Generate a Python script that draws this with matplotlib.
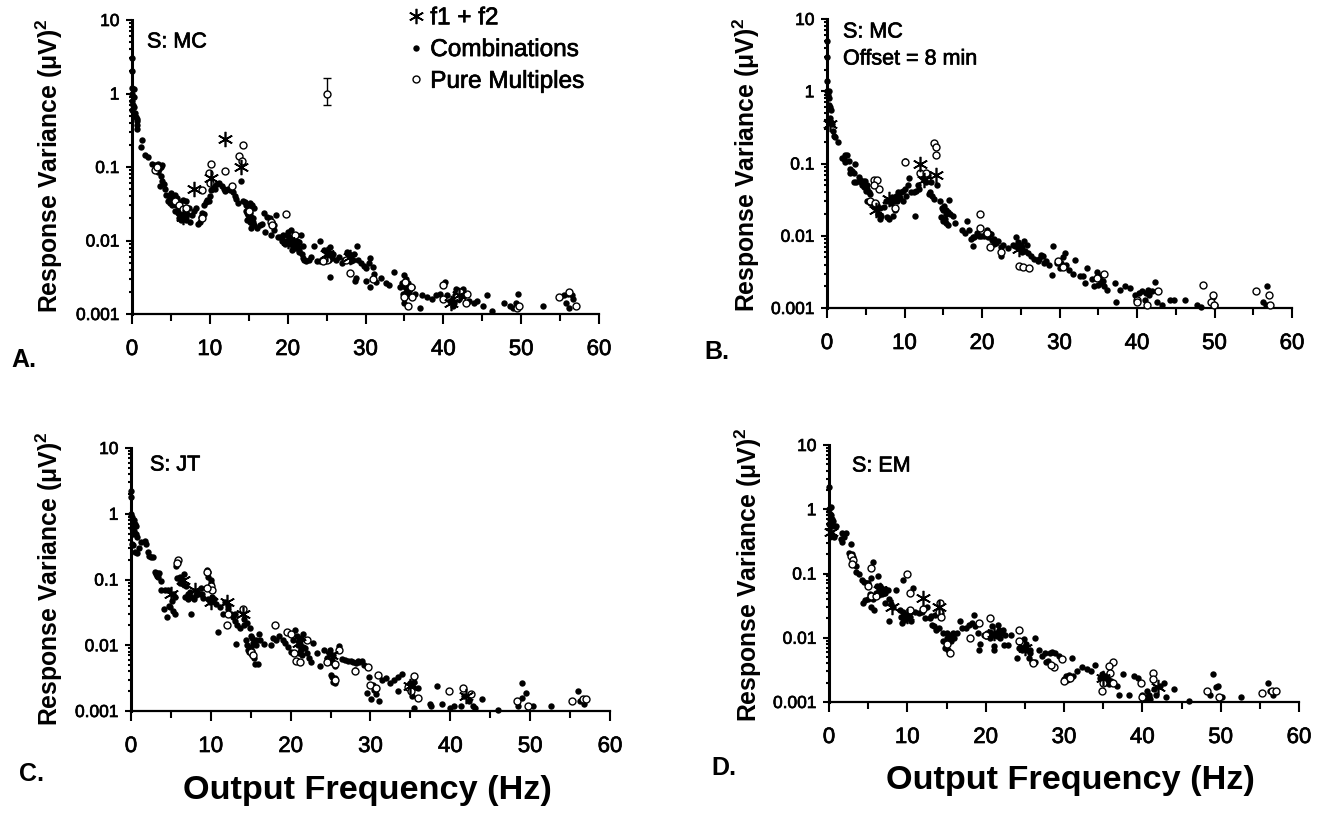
import matplotlib
matplotlib.use("Agg")
import matplotlib.pyplot as plt
import matplotlib.patheffects as pe
from matplotlib.ticker import FixedLocator, NullFormatter

plt.rcParams["font.family"] = ["Liberation Sans", "DejaVu Sans"]
plt.rcParams["mathtext.fontset"] = "custom"
plt.rcParams["mathtext.bf"] = "Liberation Sans:bold"

W, H = 1322, 815

# (frequency Hz, variance)
a_comb = [(0,3),(0,2),(0,1.2),(0.05,1),(0,.8),(0.1,.7),(0.05,.6),(0.2,1.15),(0.25,.9),(0.3,.65),(0.35,.55),(0.5,.48),(0.6,.42),(0.7,.45),(0.65,.37),(0.7,.33),
    (1.15,.19),(1.3,.23),(1.7,.145),(2.1,.135),(2.6,.11),(3,.105),(3.1,.09),(3.3,.11),(3.5,.095),(3.7,.1),(3.9,.105),(3.4,.085),(3.7,.075),(3.9,.065),(3.6,.055),(4.1,.058),(4.3,.05),
    (4.4,.042),(4.7,.04),(5,.044),(5.2,.04),(5.5,.042),(5.8,.038),(4.6,.035),(4.9,.032),(5.1,.03),(5.4,.034),(5.7,.03),(6,.028),(6.2,.033),(6.5,.036),(6.9,.034),(5.5,.025),(5.9,.024),(6.2,.022),(6.5,.026),(6.8,.024),(7,.027),(7.3,.028),(6.3,.019),(6.6,.02),(7,.019),(7.5,.018),(7.7,.022),(8,.025),(8.2,.028),(8.5,.017),(8.7,.018),(8.9,.021),(9,.024),(9.2,.023),(9.3,.03),(9.5,.033),(9.7,.036),(9.9,.034),
    (10,.04),(10.2,.048),(10.4,.055),(10.7,.05),(10.9,.058),(11.2,.06),(11.5,.055),(11.8,.05),(12,.047),(12.3,.05),(12.6,.048),(12.9,.055),(13,.045),(13.2,.04),(13.3,.037),(13.6,.032),(14,.065),(14.3,.035),(14.5,.033),(14.7,.03),(14.9,.028),(15.1,.032),(15.4,.03),(15.7,.028),(14.6,.025),(14.9,.022),(15.2,.024),(15.5,.02),(14.8,.019),(15.1,.018),(15.4,.017),(15.7,.016),(15.3,.015),(16,.015),(16.4,.016),(16.7,.017),(17,.024),(17.3,.021),(17.1,.013),(17.7,.02),(18,.018),(18.3,.016),(18.5,.022),(18.2,.014),(17.9,.012),(18.7,.011),
    (19,.011),(19.3,.01),(19.6,.009),(19.9,.012),(20.1,.013),(20.4,.014),(20.6,.011),(20.9,.012),(21.2,.01),(21.5,.0095),(20.3,.009),(20.7,.0085),(21,.0078),(21.3,.0082),(21.7,.012),(22,.0085),(21.5,.007),(21.8,.0065),(22.1,.0055),(22.4,.0052),(22.7,.0055),(23,.006),(22,.0058),(23.4,.0085),(23.8,.0053),(24.1,.0052),(24.4,.0055),(24.7,.0075),(24.9,.006),(25.2,.0072),(25.5,.0082),(25.8,.0065),(25,.0068),(25.3,.0055),(24.2,.01),(26.2,.0055),(26.6,.006),(27,.005),(27.3,.0055),(27.6,.007),(27.9,.0065),(28.2,.0058),(28.5,.0065),(28.9,.0085),(29,.0055),(29.4,.005),(29.8,.0045),(30.1,.0042),(30.4,.005),(30.6,.0058),(30.9,.0043),(25.5,.0032),(28.6,.0028),(28.8,.0031),(30.1,.0028),(30.6,.0023),(31.1,.0035),(31.3,.0027),
    (32,.0031),(32.6,.0026),(33,.0025),(33.7,.0037),(34.4,.0023),(34.7,.0026),(35,.0034),(35.2,.003),(35.5,.0026),(35.7,.0022),(36,.0023),(34.8,.0019),(35.2,.002),(35.5,.0018),(35,.0014),(36.3,.0019),(37,.0012),(37.2,.0018),(37.9,.0017),(38.6,.0016),(39.1,.0018),(39.6,.0019),(40.2,.0027),(40.5,.0018),(40.9,.0015),(41.2,.0013),(41.6,.0022),(41.9,.0019),(42.2,.002),(42.5,.0022),(42.8,.0018),(41.2,.0016),(42,.0016),(43.3,.0015),(43.9,.0014),(44.3,.0015),(45.1,.0013),(45.6,.0018),(46.2,.0011),(47.8,.0014),(48.6,.0013),(49,.0012),(49.6,.0019),(49.3,.0014),(52.8,.0013),(55,.0017),(55.5,.0018),(56,.0019),(56.5,.0018),(56.6,.0016),(55.7,.0014),(56.1,.0012),
    (6.1,.025),(6.4,.023),(6.7,.022),(7.1,.023),(6,.02),(6.9,.021),(5.2,.035),(5.6,.031),(15,.026),(15.3,.021),(14.8,.024),(15.6,.018),(19.4,.012),(19.8,.01),(20.2,.011),(20.5,.0098),(20.9,.0095),(21.1,.0088),(21.4,.0075),(20.6,.0075),(25.4,.0062),(25.7,.0058),(25.1,.0058),(24.8,.0052),(27.8,.0058),(28.1,.0052),(28.4,.0055),(41.5,.0018),(41.8,.0016),(42.2,.0017),(42.4,.0019),(41.4,.0014),(35.3,.0024),(35.6,.002),(35.1,.0023)]
a_pure = [(14.2,.2),(13.8,.14),(14.1,.12),(10.2,.11),(9.9,.082),(12,.088),(10,.06),(9,.048),(3,.09),(3.2,.1),(5.5,.035),(6,.03),(6.5,.027),(7,.028),(9,.02),(12.9,.055),(15,.025),(19.8,.023),(17.9,.018),(18,.016),(21,.012),(28,.0036),(31,.003),(25,.0055),(24.5,.0052),(35.1,.0027),(35,.0017),(35.5,.0013),(36,.0017),(35.8,.0023),(40,.0025),(40,.0016),(41.7,.0017),(42.2,.002),(43,.0019),(42.9,.0014),(49.5,.0012),(49.7,.0013),(56.2,.002),(57,.0013),(54.9,.0017),(27.5,.0055)]
a_star = [(6.5,.021),(8,.05),(10.2,.07),(12,.24),(14,.1),(20,.01),(25,.0065),(28,.006),(41,.0014),(42,.0018)]

b_comb = [(0,5),(0,3),(0,1.4),(0,1),(0.1,.9),(0.2,1),(0.3,.8),(0.3,.65),(0.4,.6),(0.5,.55),(0.4,.42),(0.5,.38),(0.6,.35),(0.8,.28),(0.9,.24),(1,.235),(1.4,.2),(1.9,.12),(2.2,.115),(2.3,.13),(2.6,.13),(2.3,.105),(2.8,.11),(3,.085),(3,.075),(3.2,.08),(3.5,.075),(3.6,.1),(3.5,.055),(3.8,.055),(4.1,.065),(4.3,.06),(4.6,.058),(4.9,.058),(4.5,.05),(4.8,.048),(5,.042),(5.2,.05),(5.4,.04),(5.6,.038),(5.2,.03),(5.5,.028),(5.7,.03),(6,.06),(6.2,.055),(6.5,.06),(6,.025),(6.3,.028),(6.6,.02),(6.8,.017),(7,.019),(7.3,.025),(7.6,.03),(7.7,.018),(8,.017),(8.3,.028),(8.6,.03),(8.5,.019),(8.8,.023),(9,.03),(9.2,.04),(9.4,.033),(9.6,.04),(9.8,.03),
    (10,.045),(10.2,.035),(10.4,.05),(10.6,.062),(10.8,.04),(11.2,.04),(11.5,.042),(11.7,.05),(11.9,.045),(11.3,.019),(10,.105),(10.1,.11),(12.2,.065),(12.5,.06),(12.8,.055),(13,.07),(13.1,.038),(13.3,.04),(13.5,.035),(13.8,.032),(13.4,.055),(14.2,.05),(14.6,.03),(14.8,.024),(15.1,.026),(15.4,.023),(15.8,.031),(14.7,.018),(15,.016),(15.3,.015),(15.6,.014),(15.9,.02),(16.2,.019),(16.5,.015),(17.4,.012),(17.8,.011),(18,.016),(18.3,.012),(18.6,.009),(18.8,.0095),(18.9,.0072),(19.3,.011),(19.6,.01),
    (20.2,.01),(20.6,.012),(20.9,.011),(21.2,.0105),(21.5,.009),(21.8,.008),(22.1,.0085),(22.5,.0052),(22.7,.0075),(22.4,.007),(23.3,.0068),(24,.0075),(24.4,.0095),(24.7,.0068),(25,.0075),(25.4,.0085),(25.8,.0075),(25.2,.006),(25.9,.0058),(26.3,.0052),(26.7,.0048),(27.2,.0045),(27.6,.0055),(27.9,.0052),(28.3,.0045),(28.7,.004),(29.1,.0072),(29,.0029),(29.7,.0042),(30,.0036),(30.4,.005),(30.7,.0058),(30.9,.004),(31.2,.0034),(31.8,.003),(32,.0046),(32.7,.0028),(33,.0028),(33.5,.0036),(33.3,.0022),(34.2,.0025),(34.8,.0031),(35.2,.0028),(35.4,.0024),(34.5,.002),(35,.0021),(35.7,.002),(36.1,.0018),(37.3,.0012),(37.2,.0022),(37.8,.0018),(38.5,.002),(39.1,.0019),(39.8,.0015),(40.3,.0016),(40.7,.0017),(41,.0013),(41.4,.0018),(41.9,.0017),(42.3,.0023),(42.6,.0012),(43.2,.0011),(44.2,.0013),(44.8,.0013),(46.2,.0013),(47.7,.0011),(48.2,.00102),(49.5,.0012),(49.8,.0014),(56.8,.002),(56.3,.0012),(56.6,.0011),(50,.0011),
    (4.4,.055),(4.7,.052),(5.1,.045),(6.4,.027),(6.9,.024),(8.4,.034),(8.9,.035),(9.3,.036),(9.8,.042),(15,.023),(15.3,.02),(15.6,.021),(15.2,.017),(19,.0095),(19.9,.0098),(20.4,.0105),(20.8,.0095),(21.3,.0088),(21.6,.0078),(24.2,.0072),(24.6,.0082),(25.1,.0065),(25.5,.0062),(27.4,.0048),(28,.0042),(30.2,.0042),(30.6,.0038),(34.9,.0026),(35.3,.0022),(35.6,.0024),(41.2,.0016),(41.6,.0015)]
b_pure = [(13.8,.19),(14.1,.17),(14,.13),(10,.105),(12,.075),(12.8,.075),(6,.06),(6.5,.06),(6.7,.044),(6,.05),(5.5,.03),(6.2,.028),(8.8,.024),(19.8,.02),(19.8,.013),(20.6,.011),(21,.007),(22.5,.006),(24.8,.0038),(25.3,.0037),(26,.0036),(35.7,.003),(34.8,.0026),(29.8,.0045),(30.5,.0037),(40,.0013),(40,.0012),(41.3,.0011),(42.7,.0017),(48.5,.0021),(49.8,.0015),(49.5,.0012),(49.9,.0011),(55.3,.0017),(57,.0015),(57.1,.0011)]
b_star = [(0.4,.35),(6.3,.023),(8,.032),(12,.1),(12.5,.06),(14,.07),(24.8,.0065)]

c_comb = [(0,2.2),(0,1.8),(0,1),(0.1,.9),(.2,.8),(.1,.6),(.2,.5),(0.3,.7),(.4,.8),(.5,.7),(.6,.65),(.4,.55),(.6,.5),(.7,.45),(.1,.35),(.3,.33),(.5,.26),(.7,.25),(1,.3),(1.2,.37),(1.7,.38),(1.9,.35),(2.1,.26),(2.3,.23),(2.5,.22),(2.8,.22),(3,.13),(3.1,.12),(3.3,.125),(3.4,.11),(3.5,.125),(3.8,.095),(3.8,.07),(4.2,.07),(4.6,.07),(4.1,.035),(4.5,.027),(4.7,.04),(4.9,.038),(5.1,.047),(5.3,.06),(5.5,.055),(5.2,.033),(5.5,.03),(5.6,.16),(5.9,.19),(5.8,.105),(6.1,.09),(6.4,.1),(6.6,.12),(6.9,.08),(7.1,.06),(6.8,.055),(7.2,.05),(7.5,.03),(7.5,.055),(7.9,.05),(8.3,.065),(8.6,.06),(8.8,.075),(9,.052),(9.5,.14),(9.6,.13),(9.7,.11),
    (10,.1),(10,.09),(9.6,.05),(9.9,.045),(10.2,.055),(10.4,.05),(10.7,.042),(10.9,.016),(11.2,.038),(11.5,.03),(11.8,.045),(12.2,.04),(12.5,.03),(12.8,.027),(13,.023),(13.3,.02),(13.1,.0105),(13.7,.018),(14.1,.025),(14.5,.022),(14.9,.018),(15,.014),(15.2,.013),(14.4,.012),(14.5,.01),(14.7,.0085),(14.8,.0078),(15.1,.007),(15.4,.0065),(15.5,.0052),(15.9,.0051),(15.7,.012),(16,.015),(16.2,.012),(16.7,.0105),(17.5,.01),(17.8,.013),(18.2,.012),(18.6,.014),(19,.012),(19.3,.011),(19.7,.0095),
    (20.1,.008),(20.6,.017),(20.8,.014),(21,.012),(21.3,.013),(21.6,.015),(21.3,.0085),(21.8,.009),(22.1,.0075),(22.3,.0065),(22.6,.0055),(22.8,.011),(23.3,.0075),(23.7,.0048),(24.2,.0085),(24.5,.0065),(24.8,.0075),(25,.0055),(25.3,.007),(25.5,.0048),(25.1,.0035),(25.3,.0028),(25.6,.0032),(26.1,.0098),(26.4,.0062),(26.8,.006),(27.2,.0058),(27.8,.0055),(28,.0042),(28.4,.0058),(28.9,.0058),(29.2,.005),(29.8,.0033),(29.6,.0019),(30.1,.0015),(30.3,.0025),(30.7,.0018),(31.1,.0014),(31.5,.003),(32,.0032),(32.4,.0027),(33,.003),(33.5,.002),(33.4,.0033),(34,.0036),(34.7,.0025),(35,.0022),(35.2,.0017),(35.5,.0028),(36,.0022),(35.5,.0011),(37.5,.0013),(37.6,.0012),(38.3,.0024),(39,.0013),(40,.0011),(40.5,.0012),(41.3,.0012),(41.7,.0017),(42.3,.0014),(42.8,.0012),(43.1,.0011),(44,.0015),(46,.00105),(49,.0027),(49.5,.0019),(48.5,.0012),(49,.0016),(50.3,.0012),(52.6,.0012),(56,.002),(56.3,.0014),(56.7,.0013),
    (3.2,.115),(6.2,.11),(6.5,.085),(7.4,.065),(8.1,.058),(8.9,.06),(10.1,.048),(12.1,.035),(13,.03),(14.2,.02),(15.3,.011),(15.6,.01),(15,.0095),(15.1,.0082),(20.3,.012),(20.9,.01),(21.2,.0105),(21.5,.0095),(21,.0075),(21.4,.0072),(24.9,.0085),(25.2,.006),(27.5,.0057),(28.2,.0053),(28.6,.0055),(25.2,.0033),(25.5,.0027),(30.5,.0021),(34.9,.0027),(35.3,.0023)]
c_pure = [(5.9,.2),(5.8,.18),(9.5,.13),(10,.08),(10.2,.07),(9.5,.075),(12.2,.03),(14,.035),(12,.02),(15,.008),(15.3,.007),(18,.02),(19.5,.016),(20,.015),(20.4,.0075),(20.7,.0058),(21.2,.0056),(22,.012),(24.6,.0055),(25.5,.0052),(26,.0085),(25.5,.003),(28,.004),(29.7,.0047),(30,.0025),(30.7,.0022),(31,.0035),(35.4,.0034),(34.7,.0023),(35.1,.002),(36,.0016),(39.8,.002),(41.6,.0022),(42.6,.0018),(48.3,.0014),(49.7,.0012),(55.3,.0014),(56.6,.0015),(57,.0015)]
c_star = [(5,.06),(6.5,.1),(8,.07),(10,.045),(12,.045),(14,.03),(21,.011),(25,.007),(35,.0024),(42,.0017)]

d_comb = [(0,2.2),(0,1),(0.1,.85),(.1,.7),(.05,.6),(.2,.55),(.3,1.1),(.3,.8),(.4,.7),(.5,.65),(.7,.55),(.9,.55),(.2,.42),(.6,.37),(1.5,.35),(1.7,.42),(1.9,.37),(2.2,.42),(1.6,.31),(2.8,.29),(2.5,.21),(2.9,.2),(3.1,.18),(3.4,.13),(3.5,.105),(3.8,.1),(4.2,.08),(4.5,.075),(4.8,.07),(5,.07),(4.4,.035),(4.6,.038),(5,.04),(5.2,.048),(5.4,.085),(5.6,.15),(5.4,.03),(5.7,.027),(5.8,.045),(6,.05),(6.3,.09),(6.5,.065),(6.7,.06),(6.9,.055),(7,.05),(7.2,.05),(7.5,.055),(7.6,.04),(7.2,.035),(7.9,.034),(8.2,.03),(8.6,.055),(7.7,.018),(9,.027),(9.3,.017),(9.6,.023),
    (10,.02),(10.2,.024),(9.2,.021),(9.5,.025),(9.4,.08),(10.7,.06),(10.5,.018),(11,.025),(11.5,.024),(11.9,.025),(12.2,.02),(12.5,.03),(12.9,.02),(13,.022),(13.5,.023),(13.1,.016),(13.4,.015),(13.6,.013),(14,.014),(14.3,.024),(14.6,.012),(14.6,.009),(15,.01),(14.8,.007),(15.2,.0065),(15.5,.0105),(15.8,.012),(16,.01),(16.3,.012),(16.7,.018),(17,.014),(17.5,.014),(17.9,.016),(18.2,.017),(18.5,.023),(18.7,.015),(19,.012),(19.3,.008),(19.2,.0065),(19.8,.011),
    (20.2,.012),(20.5,.01),(20.8,.015),(21,.0075),(21.1,.0065),(21.3,.012),(21.6,.016),(21.8,.01),(22.2,.013),(22.5,.011),(22.3,.0078),(22.8,.0078),(23.2,.011),(24,.0048),(24.3,.007),(24.7,.0065),(24.9,.0095),(25.2,.008),(25.5,.0048),(25.7,.0065),(25.9,.0042),(26.3,.0042),(26.3,.01),(26.8,.0065),(27.2,.0052),(27.6,.0058),(27.7,.0042),(28,.0043),(28.5,.006),(28.9,.0057),(29.4,.0052),(30,.0023),(30.4,.0022),(30.7,.0026),(31,.0048),(31.2,.0025),(31.6,.003),(32.3,.0035),(32.9,.0033),(33.4,.003),(34,.0038),(34.6,.0024),(35,.0021),(35.4,.0025),(35.7,.0019),(36,.0021),(36.8,.0018),(37,.0013),(37.5,.0027),(38.3,.0013),(38.9,.0025),(39.5,.0024),(40,.0013),(40.6,.0015),(40.9,.0012),(41.5,.0016),(41.8,.0013),(42.2,.0018),(42.8,.002),(43,.0012),(44,.0016),(46,.00105),(49,.0027),(49.4,.0017),(48.6,.0013),(49.6,.0018),(50.2,.0012),(52.6,.0012),(56,.002),(56.3,.0015),(56.7,.0013),(40.3,.0011),(41,.0011),
    (6.1,.065),(6.4,.055),(6.8,.048),(7.1,.058),(5.6,.04),(9.6,.019),(10,.023),(10.4,.021),(15,.012),(15.3,.011),(15.6,.009),(15.2,.0085),(14.9,.0085),(20,.0105),(20.6,.0125),(21,.011),(21.4,.0105),(21.7,.013),(22,.012),(24.9,.0072),(25.3,.0065),(25.6,.0058),(28.2,.0058),(30.2,.0025),(30.6,.0023),(35.2,.002),(35.6,.0023),(34.9,.0027),(40.5,.0012),(40.8,.0013)]
d_pure = [(5.3,.12),(10,.1),(10.3,.05),(5,.065),(2.8,.19),(3,.16),(2.9,.14),(5.3,.045),(6,.045),(10.3,.027),(12,.028),(14.2,.035),(14,.025),(14.3,.021),(15.5,.0058),(15,.008),(18,.01),(19.2,.017),(20.5,.02),(20,.011),(24.2,.013),(24.2,.009),(26,.004),(28.7,.0035),(28.3,.0037),(29.8,.0047),(30,.0021),(30.8,.0024),(36.2,.0042),(35.7,.0036),(35.9,.0028),(34.9,.0015),(35,.002),(36.2,.002),(39.8,.002),(41.3,.0028),(41.4,.0023),(40,.0012),(48.3,.0015),(49.8,.0012),(55.3,.0014),(56.6,.0015),(57,.0015)]
d_star = [(0.3,.45),(6.5,.055),(8,.03),(10,.022),(12,.042),(14,.03),(21,.012),(25,.007),(35,.0024),(42,.0017)]

# error bar shown in panel A
err_x = 25
err_y = 1.0
err_lo = 0.7
err_hi = 1.6

y_ticks = [0.001, 0.01, 0.1, 1, 10]
y_labels = ["0.001", "0.01", "0.1", "1", "10"]
x_ticks = [0, 10, 20, 30, 40, 50, 60]
y_minor = [m * d for d in y_ticks[:-1] for m in range(2, 10)]

# the scan makes regular text look heavier
heavy = [pe.withStroke(linewidth=0.5, foreground="k")]


def draw_panel(fig, box, comb, pure, star):
    # box is left, right, top, bottom in pixels of the image
    left, right, top, bottom = box
    ax = fig.add_axes([left / W, 1 - bottom / H, (right - left) / W, (bottom - top) / H])
    ax.set_yscale("log")
    ax.set_xlim(0, 60)
    ax.set_ylim(0.001, 10)

    ax.plot(*zip(*comb), ls="none", marker="o", ms=4.6, color="k", mew=0, clip_on=False, label="Combinations", zorder=3)
    ax.plot(*zip(*pure), ls="none", marker="o", ms=5, mfc="white", mec="k", mew=1, clip_on=False, label="Pure Multiples", zorder=4)
    ax.plot(*zip(*star), ls="none", marker=(6, 2, 0), ms=11, color="k", mew=1.2, clip_on=False, label="f1 + f2", zorder=5)

    ax.spines["top"].set_visible(False)
    ax.spines["right"].set_visible(False)
    ax.spines["left"].set_linewidth(2.2)
    ax.spines["bottom"].set_linewidth(1.6)

    ax.set_xticks(x_ticks)
    ax.set_xticks(range(5, 60, 10), minor=True)
    ax.set_yticks(y_ticks, y_labels)
    ax.yaxis.set_minor_locator(FixedLocator(y_minor))
    ax.yaxis.set_minor_formatter(NullFormatter())
    ax.tick_params(axis="x", which="major", length=7, width=1.5, labelsize=16, pad=11)
    ax.tick_params(axis="x", which="minor", length=5, width=1.5)
    ax.tick_params(axis="y", which="major", length=4, width=1.5, labelsize=12.5, pad=5)
    ax.tick_params(axis="y", which="minor", length=2.5, width=1.5)
    for t in ax.get_xticklabels() + ax.get_yticklabels():
        t.set_path_effects(heavy)
    return ax


def px_text(fig, x, y, s, **kw):
    return fig.text(x / W, 1 - y / H, s, va="center", **kw)


fig = plt.figure(figsize=(W / 100, H / 100), dpi=100)

ax_a = draw_panel(fig, (132, 599, 20, 314), a_comb, a_pure, a_star)
ax_b = draw_panel(fig, (827, 1292, 19, 308), b_comb, b_pure, b_star)
ax_c = draw_panel(fig, (131, 610, 448, 711), c_comb, c_pure, c_star)
ax_d = draw_panel(fig, (829, 1299, 445, 702), d_comb, d_pure, d_star)

ax_a.errorbar([err_x], [err_y], yerr=[[err_y - err_lo], [err_hi - err_y]], fmt="o", ms=5, mfc="white", mec="k",
              ecolor="k", elinewidth=1, capsize=3, capthick=1, zorder=5)

handles, labels = ax_a.get_legend_handles_labels()
order = [labels.index(n) for n in ["f1 + f2", "Combinations", "Pure Multiples"]]
leg = ax_a.legend([handles[i] for i in order], [labels[i] for i in order], loc="upper left",
                  bbox_to_anchor=(395 / W, 1.0), bbox_transform=fig.transFigure, frameon=False,
                  fontsize=17.5, labelspacing=0.4, handletextpad=0.0, handlelength=1.15, borderpad=0.3,
                  borderaxespad=0, numpoints=1)
for t in leg.get_texts():
    t.set_path_effects(heavy)

# y labels
ylab = "Response Variance (\u03bcV)$\\mathbf{^2}$"
for x, y in [(49, 166), (746, 165), (49, 579), (748, 575)]:
    px_text(fig, x, y, ylab, rotation=90, ha="center", fontsize=17.8, fontweight="bold")

# panel letters
for x, y, s in [(11, 360, "A."), (704, 352, "B."), (19, 774, "C."), (711, 768, "D.")]:
    px_text(fig, x, y, s, ha="left", fontsize=18, fontweight="bold")

# subject notes
for x, y, s in [(147, 42, "S: MC"), (843, 32, "S: MC"), (843, 59, "Offset = 8 min"), (150, 465, "S: JT"), (852, 466, "S: EM")]:
    px_text(fig, x, y, s, ha="left", fontsize=15.5, path_effects=heavy)

px_text(fig, 367, 791, "Output Frequency (Hz)", ha="center", fontsize=24.7, fontweight="bold")
px_text(fig, 1070, 781, "Output Frequency (Hz)", ha="center", fontsize=24.7, fontweight="bold")

fig.savefig("out.png", dpi=100)
